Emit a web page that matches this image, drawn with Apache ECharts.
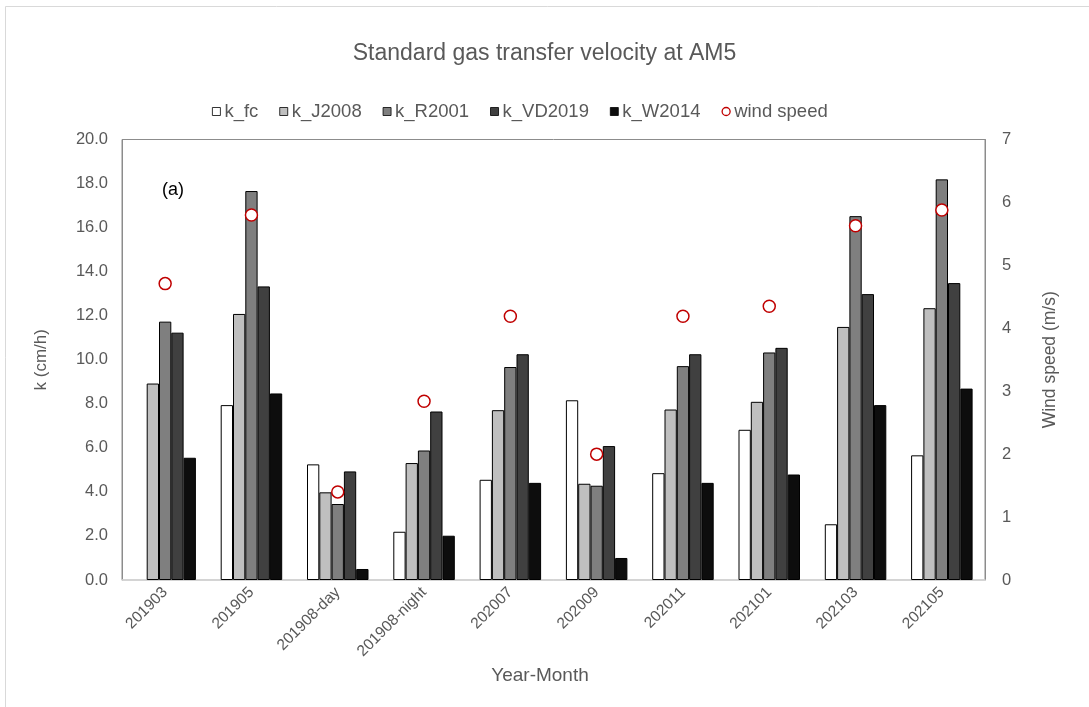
<!DOCTYPE html>
<html>
<head>
<meta charset="utf-8">
<script src="https://cdn.jsdelivr.net/npm/echarts@6/dist/echarts.min.js"></script>
<style>
  html, body { margin: 0; padding: 0; background: #fff; }
  #chart { width: 1089px; height: 707px; }
</style>
</head>
<body>
<div id="chart"></div>
<script>
// Sampling campaigns (year-month)
const categories = ['201903', '201905', '201908-day', '201908-night', '202007',
                    '202009', '202011', '202101', '202103', '202105'];

// Standard gas transfer velocity k (cm/h) from each parameterisation
const kFc     = ['-', 7.94, 5.25, 2.19, 4.55, 8.16, 4.85, 6.82, 2.53, 5.66];
const kJ2008  = [8.92, 12.08, 3.98, 5.31, 7.71, 4.37, 7.74, 8.09, 11.49, 12.34];
const kR2001  = [11.73, 17.66, 3.45, 5.88, 9.67, 4.28, 9.71, 10.33, 16.52, 18.19];
const kVD2019 = [11.23, 13.33, 4.93, 7.65, 10.25, 6.08, 10.25, 10.54, 12.98, 13.48];
const kW2014  = [5.55, 8.47, 0.50, 2.01, 4.41, 1.00, 4.41, 4.79, 7.94, 8.69];

// Mean wind speed (m/s), right axis
const windSpeed = [4.71, 5.80, 1.40, 2.84, 4.19, 2.00, 4.19, 4.35, 5.63, 5.88];

const FONT = '"Liberation Sans", Arial, sans-serif';
const GREY = '#595959';

function barSeries(name, data, color) {
  return {
    name: name,
    type: 'bar',
    data: data,
    barWidth: 12.3,
    barGap: '0%',
    itemStyle: { color: color, borderColor: '#000', borderWidth: 1 }
  };
}

const chart = echarts.init(document.getElementById('chart'), null, { renderer: 'canvas' });

chart.setOption({
  animation: false,
  backgroundColor: '#fff',
  textStyle: { fontFamily: FONT },
  title: {
    text: 'Standard gas transfer velocity at AM5',
    left: 'center',
    top: 37,
    textStyle: { fontFamily: FONT, fontSize: 23, fontWeight: 'normal', color: GREY }
  },
  legend: {
    top: 97,
    left: 207,
    itemWidth: 8,
    itemHeight: 8,
    itemGap: 21,
    textStyle: { fontFamily: FONT, fontSize: 18.5, color: GREY, padding: [0, 0, 0, -1] },
    data: [
      { name: 'k_fc', icon: 'rect', itemStyle: { borderWidth: 0.8 } },
      { name: 'k_J2008', icon: 'rect', itemStyle: { borderWidth: 0.8 } },
      { name: 'k_R2001', icon: 'rect', itemStyle: { borderWidth: 0.8 } },
      { name: 'k_VD2019', icon: 'rect', itemStyle: { borderWidth: 0.8 } },
      { name: 'k_W2014', icon: 'rect', itemStyle: { borderWidth: 0.8 } },
      { name: 'wind speed', icon: 'circle', itemStyle: { color: '#fff', borderColor: '#c00000', borderWidth: 1.3 }, textStyle: { color: GREY } }
    ]
  },
  grid: {
    left: 122, right: 104, top: 139.5, bottom: 127,
    show: true, borderColor: '#8c8c8c', borderWidth: 1
  },
  graphic: [
    {
      type: 'rect',
      shape: { x: 5.5, y: 6.5, width: 1200, height: 800 },
      style: { fill: null, stroke: '#d9d9d9', lineWidth: 1 },
      silent: true, z: -10
    },
    {
      type: 'text',
      left: 162, top: 181,
      style: { text: '(a)', fontFamily: FONT, fontSize: 18, fill: '#000' }
    }
  ],
  xAxis: {
    type: 'category',
    data: categories,
    name: 'Year-Month',
    nameLocation: 'middle',
    nameGap: 77,
    nameTextStyle: { fontFamily: FONT, fontSize: 19, color: GREY, padding: [0, 27, 0, 0] },
    axisLine: { lineStyle: { color: '#d9d9d9', width: 1.5 } },
    axisTick: { show: false },
    axisLabel: { rotate: 45, fontFamily: FONT, fontSize: 15.5, color: GREY, margin: 10, interval: 0 }
  },
  yAxis: [
    {
      type: 'value',
      min: 0, max: 20, interval: 2,
      name: 'k (cm/h)',
      nameLocation: 'middle',
      nameGap: 72,
      nameTextStyle: { fontFamily: FONT, fontSize: 17, color: GREY },
      axisLine: { show: true, lineStyle: { color: '#8c8c8c' } },
      axisTick: { show: false },
      splitLine: { show: false },
      axisLabel: { formatter: v => v.toFixed(1), fontFamily: FONT, fontSize: 16.5, color: GREY, margin: 14 }
    },
    {
      type: 'value',
      min: 0, max: 7, interval: 1,
      name: 'Wind speed (m/s)',
      nameLocation: 'middle',
      nameGap: 56,
      nameRotate: 90,
      nameTextStyle: { fontFamily: FONT, fontSize: 17.5, color: GREY },
      axisLine: { show: true, lineStyle: { color: '#8c8c8c' } },
      axisTick: { show: false },
      splitLine: { show: false },
      axisLabel: { fontFamily: FONT, fontSize: 16.5, color: GREY, margin: 17 }
    }
  ],
  series: [
    barSeries('k_fc', kFc, '#ffffff'),
    barSeries('k_J2008', kJ2008, '#bfbfbf'),
    barSeries('k_R2001', kR2001, '#7f7f7f'),
    barSeries('k_VD2019', kVD2019, '#404040'),
    barSeries('k_W2014', kW2014, '#0d0d0d'),
    {
      name: 'wind speed',
      type: 'scatter',
      yAxisIndex: 1,
      data: windSpeed,
      symbol: 'circle',
      symbolSize: 12,
      z: 5,
      itemStyle: { color: '#fff', borderColor: '#c00000', borderWidth: 1.5, opacity: 1 }
    }
  ]
});
</script>
</body>
</html>
